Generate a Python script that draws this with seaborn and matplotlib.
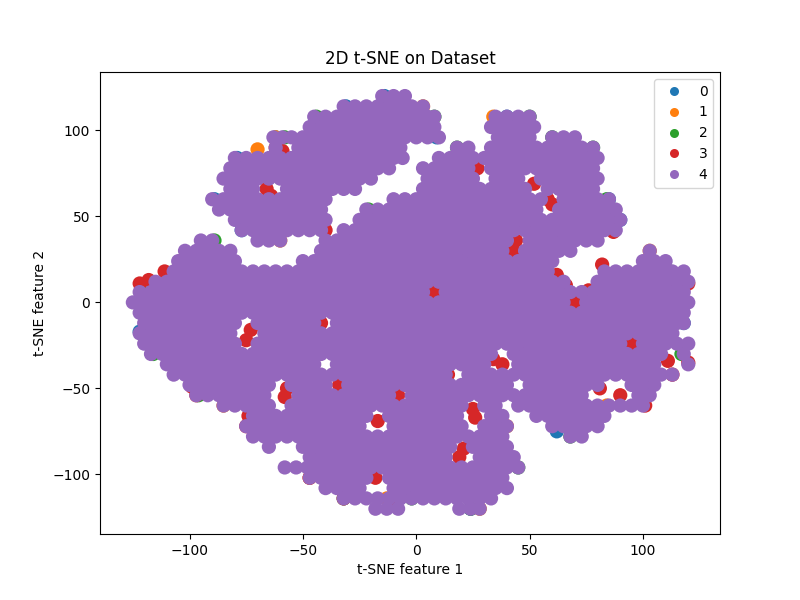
import matplotlib
matplotlib.use("Agg")
import matplotlib.pyplot as plt
import pandas as pd
import seaborn as sns

classes = [0, 1, 2, 3, 4]
class_colors = ["#1f77b4", "#ff7f0e", "#2ca02c", "#d62728", "#9467bd"]

# class 0 to 3 peek out from under class 4 along the rim and in the gaps
x0 = [62, 118, -122, -62, -89, 85, 40, -79, -31, 90, -14, 24, -77, 9]
y0 = [-75, -12, -17, 96, 60, 60, 108, 84, 114, 48, 120, -120, 42, 96]
x1 = [-70, -104, 103, 3, -47, -85, 40, -13, 28, 119, -60, -62, 34, 84]
y1 = [89, 24, 30, 114, -102, -60, -72, -114, -120, 12, 36, 96, 108, -60]
x2 = [-58, -44, 73, 18, 60, -121, -89, 45, 24, -32, -2, 87, 112, 104, 78, 36, -116, -96, 68, -46, 8, 84, 23, 117, 50, -21, 68]
y2 = [96, 108, 60, 90, 96, 6, 36, -96, -120, -114, -114, 54, 18, -48, 90, -69, -30, -54, -78, -90, 108, 60, 30, -30, 108, 54, -30]
x3 = [-122, -118, -111, -75, -74, -47, -32, -11, 120, 113, 120, 87, 87, 58, 60, 62, 66, 76, 79, -97, -99, -66, -64, -57, -58, -17, -18,
      27, 52, 48, -62, -59, 44, 43, 34, 38, 21, 19, 81, 90, 25, 26, 111, -73, -75, -28, -28, -22, 8, -4, -8, 35, 70, 14, -40, 62, 29,
      95, -85, -42, 3, -12, 16, 52, 82, 110, -34, -96, 101, 46]
y3 = [11, 13, 18, -72, -66, -102, -114, -118, -35, -42, 11, 41, 45, 60, 57, 16, 10, 7, 58, -54, -49, 66, 62, -50, -55, -69, -102,
      78, 69, 46, 90, 88, 36, 30, -33, -36, -85, -90, -50, -54, -62, -67, -34, -16, -22, 30, 12, -8, 6, -30, -54, -18, 0, -42, 42, 40, 18,
      -24, -30, -12, 48, 24, -6, -10, 22, 8, -48, -20, -60, -27]

# class 4, written row by row: y of a row -> x of its points
rows_4 = {
    120: [-15, -10, -5],
    114: [-32, -27, -22, -17, -12, -7, -2, 3],
    108: [-45, -40, -35, -30, -25, -20, -15, -10, -5, 0, 5, 8, 35, 40, 45, 50],
    102: [-47, -42, -37, -32, -27, -22, -17, -12, -7, -2, 3, 8, 33, 38, 43, 48, 52],
    96: [-63, -59, -55, -50, -45, -40, -35, -30, -25, -20, -15, -10, -5, 0, 5, 10, 36, 40, 45, 50, 60, 65, 70],
    90: [-62, -52, -47, -42, -37, -32, -27, -22, -17, -12, -7, 18, 23, 33, 38, 43, 48, 53, 58, 63, 68, 73, 78],
    84: [-80, -75, -70, -65, -60, -55, -50, -45, -40, -35, -30, -25, -20, -15, -10, -6, 10, 15, 20, 25, 30, 35, 40, 45, 50, 55, 60, 65, 70, 75, 80],
    78: [-82, -77, -72, -67, -62, -57, -52, -47, -42, -37, -32, -27, -22, -17, -12, 3, 8, 13, 18, 23, 33, 38, 43, 48, 53, 58, 63, 68, 73, 78],
    72: [-85, -80, -75, -70, -65, -60, -55, -50, -45, -40, -35, -30, -25, -20, 5, 10, 15, 20, 25, 35, 40, 45, 55, 60, 65, 70, 75, 80],
    66: [-82, -77, -72, -57, -52, -47, -42, -37, -32, -27, 3, 8, 13, 18, 23, 28, 33, 38, 43, 48, 58, 63, 68, 73, 78],
    60: [-90, -85, -80, -75, -70, -65, -60, -55, -50, -45, -40, -10, -5, 0, 5, 10, 15, 20, 25, 30, 35, 40, 45, 50, 55, 65, 70, 75, 80, 85],
    54: [-87, -82, -77, -72, -67, -62, -57, -52, -47, -42, -22, -17, -12, -7, -2, 3, 8, 13, 18, 23, 28, 33, 38, 43, 48, 53, 63, 68, 73, 78, 83, 88],
    48: [-80, -75, -70, -65, -60, -55, -50, -45, -40, -25, -20, -15, -10, -5, 0, 5, 10, 15, 20, 25, 30, 35, 40, 45, 50, 55, 60, 65, 70, 75, 80, 85, 90],
    42: [-77, -72, -67, -62, -57, -52, -47, -42, -32, -27, -22, -17, -12, -7, -2, 3, 8, 13, 18, 23, 28, 33, 38, 43, 48, 53, 58, 63, 68, 73, 78, 83, 88],
    36: [-95, -90, -70, -65, -60, -40, -35, -30, -25, -20, -15, -10, -5, 0, 5, 10, 15, 20, 25, 30, 35, 40, 50, 55, 60, 65, 70, 75, 80],
    30: [-102, -97, -92, -87, -82, -42, -37, -32, -27, -22, -17, -12, -7, -2, 3, 8, 13, 18, 23, 28, 33, 38, 48, 53, 58, 63, 68, 103],
    24: [-105, -100, -95, -90, -85, -80, -50, -45, -40, -35, -30, -25, -20, -15, -10, -5, 0, 5, 10, 15, 20, 25, 30, 35, 40, 45, 50, 55, 60, 100, 105, 110],
    18: [-107, -102, -97, -92, -87, -82, -77, -72, -67, -62, -57, -52, -47, -42, -37, -32, -27, -22, -17, -12, -7, -2, 3, 8, 13, 18, 23, 28, 33, 38, 43, 48, 53, 58, 83, 88, 93, 98, 103, 108, 113, 118],
    12: [-115, -110, -105, -100, -95, -90, -85, -80, -75, -70, -65, -60, -55, -50, -45, -40, -35, -30, -25, -20, -15, -10, -5, 0, 5, 10, 15, 20, 25, 30, 35, 40, 45, 50, 55, 60, 65, 80, 85, 90, 95, 100, 105, 110, 115, 120],
    6: [-122, -117, -112, -107, -102, -97, -92, -87, -82, -77, -72, -67, -62, -57, -52, -47, -42, -37, -32, -27, -22, -17, -12, -7, -2, 3, 13, 18, 23, 28, 33, 38, 43, 48, 53, 58, 63, 68, 73, 78, 83, 88, 93, 98, 103, 108, 113, 118],
    0: [-125, -120, -115, -110, -105, -100, -95, -90, -85, -80, -75, -70, -65, -60, -55, -50, -45, -40, -35, -30, -25, -20, -15, -10, -5, 0, 5, 10, 15, 20, 25, 30, 35, 40, 45, 50, 55, 60, 65, 75, 80, 85, 90, 95, 100, 105, 110, 115, 120],
    -6: [-122, -117, -112, -107, -102, -97, -92, -87, -82, -77, -72, -67, -62, -57, -52, -47, -42, -37, -32, -27, -22, -17, -12, -7, -2, 3, 8, 13, 18, 23, 28, 33, 38, 43, 48, 53, 58, 63, 68, 73, 78, 83, 88, 93, 98, 103, 108, 113, 118],
    -12: [-120, -115, -110, -105, -100, -95, -90, -85, -80, -70, -65, -60, -55, -50, -45, -35, -30, -25, -20, -15, -10, -5, 0, 5, 10, 15, 20, 25, 30, 35, 40, 45, 50, 55, 60, 65, 70, 75, 80, 85, 90, 95, 100, 105, 110, 115, 118],
    -18: [-122, -117, -112, -107, -102, -97, -92, -87, -82, -67, -62, -57, -52, -47, -42, -37, -32, -27, -22, -17, -12, -7, -2, 3, 8, 13, 18, 23, 28, 33, 38, 43, 48, 53, 58, 63, 68, 73, 78, 83, 88, 93, 98, 103, 108, 113],
    -24: [-120, -115, -110, -105, -100, -95, -90, -85, -80, -70, -65, -60, -55, -50, -45, -40, -35, -30, -25, -20, -15, -10, -5, 0, 5, 10, 15, 20, 25, 30, 35, 40, 45, 50, 55, 60, 65, 70, 75, 80, 85, 90, 100, 105, 110, 115, 120],
    -30: [-117, -112, -107, -102, -97, -92, -87, -82, -77, -72, -67, -62, -57, -52, -47, -42, -37, -32, -27, -22, -17, -12, -7, -2, 3, 8, 13, 18, 23, 28, 33, 43, 48, 53, 58, 63, 68, 73, 78, 83, 88, 93, 98, 103, 108, 118],
    -36: [-110, -105, -100, -95, -90, -85, -80, -75, -70, -65, -60, -55, -50, -45, -35, -30, -25, -20, -15, -10, -5, 0, 5, 10, 15, 20, 25, 30, 45, 50, 55, 60, 65, 70, 75, 80, 85, 90, 95, 100, 105, 120],
    -42: [-107, -102, -97, -92, -87, -82, -77, -72, -67, -62, -57, -52, -47, -42, -37, -32, -27, -22, -17, -12, -7, -2, 3, 8, 13, 23, 28, 33, 38, 43, 48, 53, 58, 63, 68, 73, 78, 83, 88, 93, 98, 103, 108, 113],
    -48: [-100, -95, -90, -85, -80, -75, -70, -65, -55, -50, -45, -40, -30, -25, -20, -15, -10, -5, 0, 5, 10, 15, 20, 25, 30, 35, 40, 50, 55, 60, 65, 70, 75, 80, 95, 100, 105],
    -54: [-97, -92, -87, -82, -77, -72, -67, -52, -47, -42, -37, -32, -27, -22, -17, -12, -2, 3, 8, 13, 18, 23, 28, 33, 38, 43, 48, 53, 58, 63, 68, 73, 98, 103],
    -60: [-85, -80, -75, -70, -65, -55, -50, -45, -40, -35, -30, -25, -20, -15, -10, -5, 0, 5, 10, 15, 20, 30, 35, 45, 50, 55, 60, 65, 70, 75, 80, 85, 90, 95, 100],
    -66: [-72, -67, -62, -57, -52, -47, -42, -37, -32, -27, -22, -12, -7, -2, 3, 8, 13, 18, 33, 38, 53, 58, 63, 68, 73, 78, 83],
    -72: [-75, -70, -65, -60, -55, -50, -45, -40, -35, -30, -25, -10, -5, 0, 5, 10, 15, 20, 30, 35, 40, 60, 65, 70, 75, 80],
    -78: [-72, -67, -62, -57, -52, -47, -42, -37, -32, -27, -22, -17, -12, -7, -2, 3, 8, 13, 18, 23, 28, 33, 38, 68, 73],
    -84: [-65, -50, -45, -40, -35, -30, -25, -20, -15, -10, -5, 0, 5, 10, 15, 25, 30, 35, 40],
    -90: [-47, -42, -37, -32, -27, -22, -17, -12, -7, -2, 3, 8, 13, 28, 33, 38, 43],
    -96: [-58, -53, -48, -45, -40, -35, -30, -25, -20, -15, -10, -5, 0, 5, 10, 15, 20, 25, 30, 35, 40, 45],
    -102: [-47, -42, -37, -32, -27, -22, -12, -7, -2, 3, 8, 13, 18, 23, 28, 33, 38],
    -108: [-40, -35, -30, -25, -10, -5, 0, 5, 10, 15, 20, 25, 30, 35, 40],
    -114: [-32, -27, -22, -17, -12, -7, -2, 3, 8, 13, 18, 23, 28, 33],
    -120: [-18, -13, -8, 19, 24, 28],
}

x4 = [x for y, xs in rows_4.items() for x in xs]
y4 = [y for y, xs in rows_4.items() for x in xs]

feature_1 = x0 + x1 + x2 + x3 + x4
feature_2 = y0 + y1 + y2 + y3 + y4
labels = ([0] * len(x0) + [1] * len(x1) + [2] * len(x2) + [3] * len(x3) + [4] * len(x4))
df = pd.DataFrame({"f1": feature_1, "f2": feature_2, "label": labels})

fig, ax = plt.subplots(figsize=(8, 6), dpi=100)
sns.scatterplot(data=df, x="f1", y="f2", hue="label", hue_order=classes,
                palette=class_colors, s=105, linewidth=0, ax=ax, legend="full")
ax.set_xlim(-139.5, 134)
ax.set_ylim(-134.7, 134)
ax.set_xticks([-100, -50, 0, 50, 100])
ax.set_yticks([-100, -50, 0, 50, 100])
ax.set_xlabel("t-SNE feature 1")
ax.set_ylabel("t-SNE feature 2")
ax.set_title("2D t-SNE on Dataset")
leg = ax.legend(loc="upper right")
for h in leg.legend_handles:
    if hasattr(h, "set_markersize"):
        h.set_markersize(6.5)
    else:
        h.set_sizes([42])
fig.savefig("out.png", dpi=100)
